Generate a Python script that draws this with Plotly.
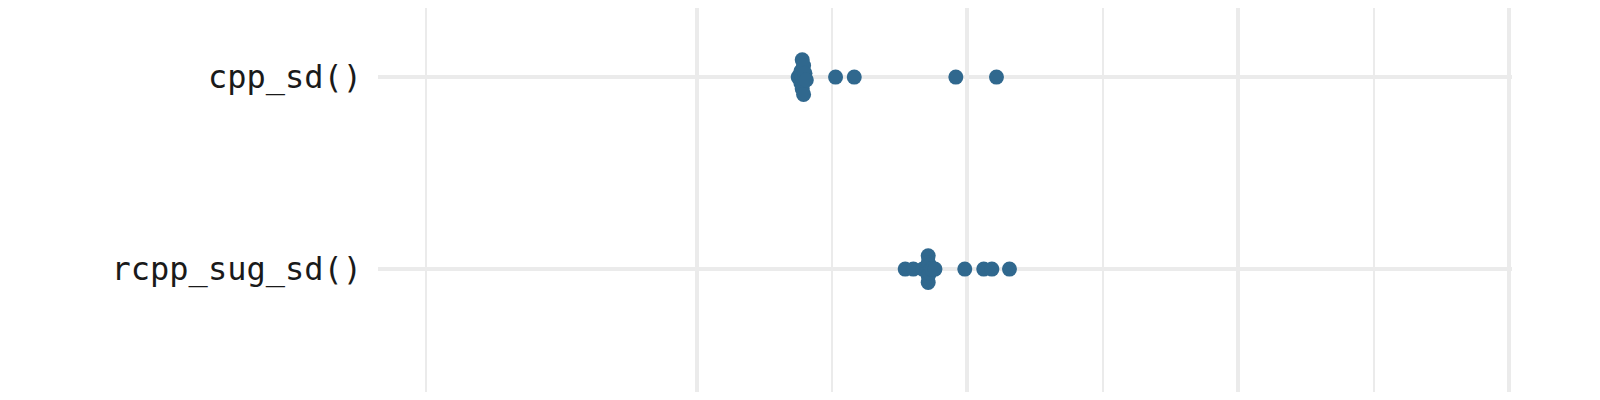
import plotly.graph_objects as go

categories = ["cpp_sd()", "rcpp_sug_sd()"]
cpp_vals = [0.375, 0.38, 0.385, 0.385, 0.39, 0.39, 0.39, 0.395, 0.395, 0.40,
            0.40, 0.405, 0.513, 0.582, 0.957, 1.107]
cpp_jit = [0, 0, -6, 6, -18, 0, 12, -12, 18, 0, -4, 3, 0, 0, 0, 0]
rcpp_vals = [0.77, 0.80, 0.835, 0.85, 0.855, 0.855, 0.855, 0.855, 0.855, 0.86,
             0.86, 0.865, 0.87, 0.88, 0.99, 1.06, 1.09, 1.155]
rcpp_jit = [0, 0, 0, 0, -14, -7, 0, 7, 14, -4, 4, 0, 0, 0, 0, 0, 0, 0]

PX_Y = 200.0  # pixels per y unit (jitter stored in px)

fig = go.Figure()
for base, vals, jit in [(1, cpp_vals, cpp_jit), (0, rcpp_vals, rcpp_jit)]:
    fig.add_trace(go.Scatter(x=vals, y=[base - j / PX_Y for j in jit], mode="markers",
                             marker=dict(size=15, color="#30688e"),
                             showlegend=False))

fig.update_layout(
    plot_bgcolor="white", paper_bgcolor="white",
    margin=dict(l=370, r=80, t=0, b=0, autoexpand=False),
    xaxis=dict(range=[-1.176, 3.01], tickvals=[0, 1, 2, 3], showticklabels=False,
               gridcolor="#ebebeb", gridwidth=4, zeroline=False, automargin=False,
               minor=dict(tickvals=[-1, 0.5, 1.5, 2.5], showgrid=True,
                          gridcolor="#ebebeb", gridwidth=2)),
    yaxis=dict(range=[-0.64, 1.36], tickvals=[1, 0], ticktext=categories,
               gridcolor="#ebebeb", gridwidth=4, zeroline=False, automargin=False,
               tickfont=dict(family="DejaVu Sans Mono", size=32, color="#1a1a1a"),
               ticklabelstandoff=15),
)
fig.write_html("out.html")
